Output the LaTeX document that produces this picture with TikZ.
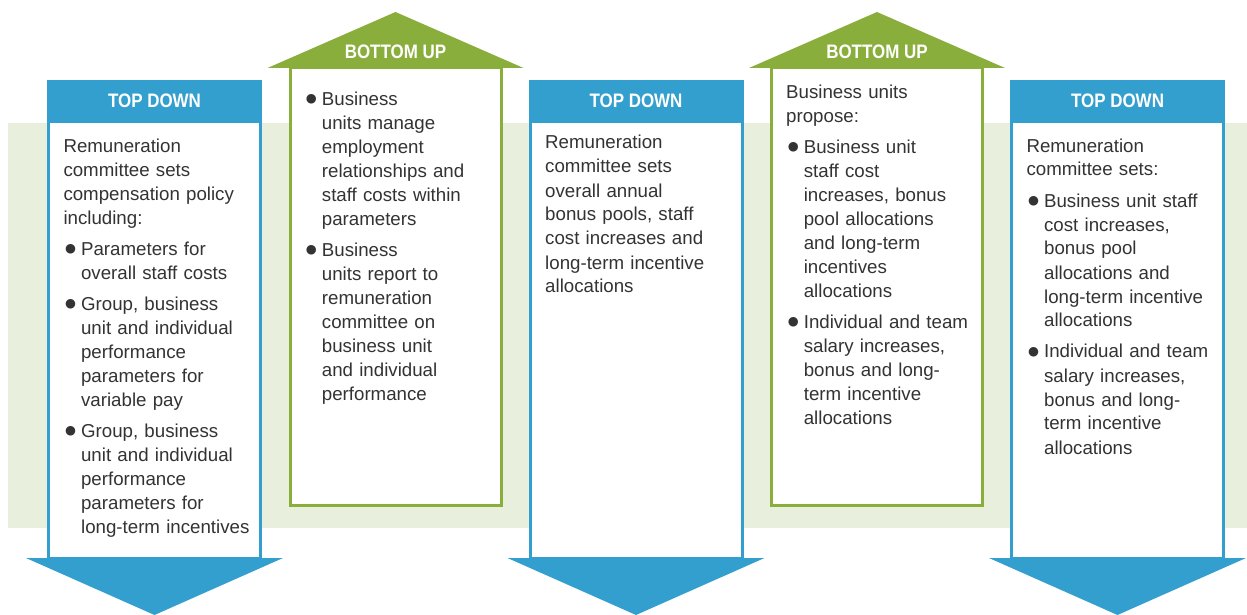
\documentclass[tikz,border=0pt]{standalone}
\usepackage{fontspec}
\setmainfont{Liberation Sans}
\newfontfamily\bodyfont{Liberation Sans}
\newfontfamily\headfont[FakeStretch=0.87]{Liberation Sans}
\newfontfamily\bulfont{DejaVu Sans}
\usetikzlibrary{calc}
\definecolor{tdblue}{RGB}{51,159,206}
\definecolor{bugreen}{RGB}{138,174,59}
\definecolor{bandgreen}{RGB}{232,239,221}
\definecolor{txtgray}{RGB}{51,51,51}
\newcommand\mybul{\strut\makebox[17.6pt][l]{\makebox[14pt][c]{\raisebox{3.0pt}{\bulfont\fontsize{12.5}{12.5}\selectfont ●}}}}
\newcommand\bitem[1]{\par\noindent\hangindent=17.6pt\hangafter=1 \mybul #1\par}
\begin{document}
\begin{tikzpicture}[x=1pt,y=-1pt,
  tdhead/.style={fill=tdblue, text=white, minimum width=215pt, minimum height=41pt,
    inner sep=0pt, outer sep=0pt, anchor=north, font=\headfont\bfseries\fontsize{19.5}{20}\selectfont},
  tdbody/.style={draw=tdblue, line width=3pt, fill=white, minimum width=212pt, minimum height=436pt,
    inner sep=0pt, outer sep=0pt, anchor=north},
  bubody/.style={draw=bugreen, line width=3pt, fill=white, minimum width=211pt, minimum height=437pt,
    inner sep=0pt, outer sep=0pt, anchor=north},
  buhead/.style={text=white, inner sep=0pt, font=\headfont\bfseries\fontsize{19.5}{20}\selectfont},
  bodytext/.style={text width=230pt, inner sep=0pt, outer sep=0pt, anchor=north west, text=txtgray,
    font=\bodyfont\fontsize{18.7}{24}\selectfont,
    execute at begin node={\setlength{\parskip}{7pt}\setlength{\parindent}{0pt}}}
]
\useasboundingbox (0,0) rectangle (1247,615);
% background band
\fill[bandgreen] (8,123) rectangle (1247,528.3);

% ---- column 1 (top down)
\node[tdbody] (b1) at (154.5,122) {};
\fill[tdblue] ($(b1.south)+(-128.5,0)$) -- ($(b1.south)+(128.5,0)$) -- ($(b1.south)+(0,57)$) -- cycle;
\node[tdhead] (h1) at (154.5,80.5) {TOP DOWN};

% ---- column 2 (bottom up)
\node[bubody] (b2) at (395.5,68) {};
\fill[bugreen] ($(b2.north)+(-128,0)$) -- ($(b2.north)+(128,0)$) -- ($(b2.north)+(0,-56)$) -- cycle;
\node[buhead] (h2) at (395.5,52) {BOTTOM UP};

% ---- column 3 (top down)
\node[tdbody] (b3) at (636,122) {};
\fill[tdblue] ($(b3.south)+(-128.5,0)$) -- ($(b3.south)+(128.5,0)$) -- ($(b3.south)+(0,57)$) -- cycle;
\node[tdhead] (h3) at (636,80.5) {TOP DOWN};

% ---- column 4 (bottom up)
\node[bubody] (b4) at (877,68) {};
\fill[bugreen] ($(b4.north)+(-128,0)$) -- ($(b4.north)+(128,0)$) -- ($(b4.north)+(0,-56)$) -- cycle;
\node[buhead] (h4) at (877,52) {BOTTOM UP};

% ---- column 5 (top down)
\node[tdbody] (b5) at (1117.5,122) {};
\fill[tdblue] ($(b5.south)+(-128.5,0)$) -- ($(b5.south)+(128.5,0)$) -- ($(b5.south)+(0,57)$) -- cycle;
\node[tdhead] (h5) at (1117.5,80.5) {TOP DOWN};

% ---- texts
\node[bodytext] (t1) at (63.5,135.5) {\strut Remuneration\newline committee sets\newline compensation policy\newline including:%
\bitem{Parameters for\newline overall staff costs}%
\bitem{Group, business\newline unit and individual\newline performance\newline parameters for\newline variable pay}%
\bitem{Group, business\newline unit and individual\newline performance\newline parameters for\newline long-term incentives}};

\node[bodytext] (t2) at (304.3,74.5) {%
\bitem{Business\newline units manage\newline employment\newline relationships and\newline staff costs within\newline parameters}%
\bitem{Business\newline units report to\newline remuneration\newline committee on\newline business unit\newline and individual\newline performance}};

\node[bodytext] (t3) at (545.2,132.2) {\strut Remuneration\newline committee sets\newline overall annual\newline bonus pools, staff\newline cost increases and\newline long-term incentive\newline allocations};

\node[bodytext] (t4) at (786.2,81.5) {\strut Business units\newline propose:%
\bitem{Business unit\newline staff cost\newline increases, bonus\newline pool allocations\newline and long-term\newline incentives\newline allocations}%
\bitem{Individual and team\newline salary increases,\newline bonus and long-\newline term incentive\newline allocations}};

\node[bodytext] (t5) at (1026.5,135.2) {\strut Remuneration\newline committee sets:%
\bitem{Business unit staff\newline cost increases,\newline bonus pool\newline allocations and\newline long-term incentive\newline allocations}%
\bitem{Individual and team\newline salary increases,\newline bonus and long-\newline term incentive\newline allocations}};
\end{tikzpicture}
\end{document}
